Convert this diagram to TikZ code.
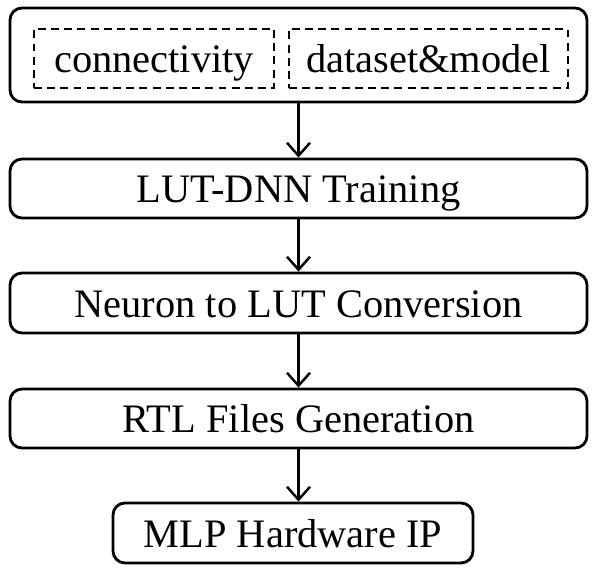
\documentclass[tikz,border=0pt]{standalone}
\usepackage{fontspec}
\setmainfont{Liberation Serif}
\usepackage{tikz}
\usetikzlibrary{positioning,arrows.meta,calc}

\begin{document}
\begin{tikzpicture}[font=\fontsize{23}{27}\selectfont,
  stagebox/.style={draw, line width=1.6pt, rounded corners=0.24cm, minimum height=1.18cm, inner sep=0pt, text height=16.2pt, text depth=0pt},
  inputbox/.style={draw, line width=1.1pt, dash pattern=on 4.5pt off 3pt, minimum height=1.18cm, inner sep=0pt, text height=16.2pt, text depth=0pt},
  flow/.style={-{Straight Barb[length=0.26cm, width=0.46cm, line width=1.4pt]}, line width=1.4pt}]
\useasboundingbox (0,0) rectangle (11.96,11.46);
% inputs
\node[stagebox, minimum width=11.54cm, minimum height=1.88cm] (inputs) at (5.97,10.36) {};
\node[inputbox, minimum width=4.8cm] (conn) at (3.08,10.29) {connectivity};
\node[inputbox, minimum width=5.58cm] (data) at (8.57,10.29) {dataset\&model};
% flow stages
\node[stagebox, minimum width=11.54cm] (train) at (5.97,7.69) {LUT-DNN Training};
\node[stagebox, minimum width=11.54cm, minimum height=1.2cm] (conv) at (5.97,5.40) {Neuron to LUT Conversion};
\node[stagebox, minimum width=11.54cm] (rtl) at (5.97,3.09) {RTL Files Generation};
\node[stagebox, minimum width=7.2cm, minimum height=1.2cm] (ip) at (5.86,0.80) {MLP Hardware IP};
% arrows
\draw[flow] (inputs.south) -- (train.north);
\draw[flow] (train.south) -- (conv.north);
\draw[flow] (conv.south) -- (rtl.north);
\draw[flow] (rtl.south) -- (rtl.south |- ip.north);
\end{tikzpicture}
\end{document}
